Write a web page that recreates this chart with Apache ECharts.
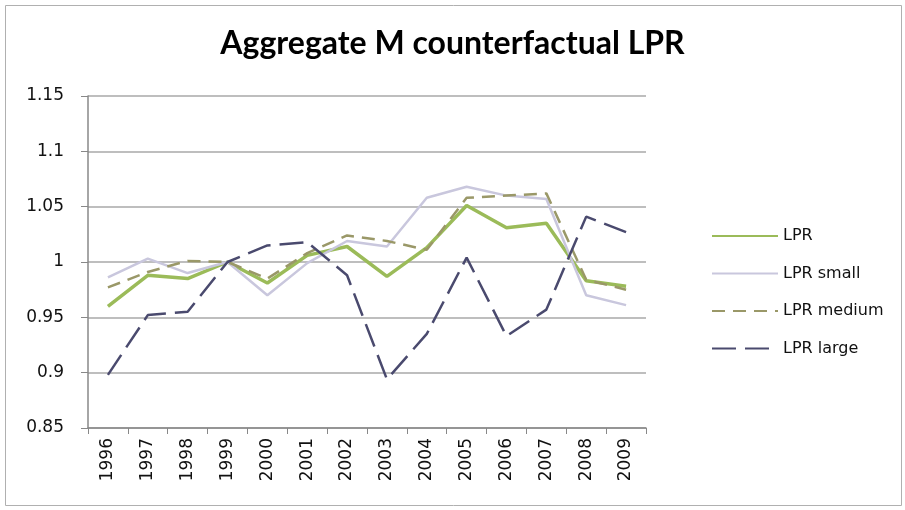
<!DOCTYPE html>
<html>
<head>
<meta charset="utf-8">
<script src="https://cdn.jsdelivr.net/npm/echarts@6/dist/echarts.min.js"></script>
<style>
html,body{margin:0;padding:0;background:#fff;}
#chart{width:905px;height:510px;}
</style>
</head>
<body>
<div id="chart"></div>
<script>
var years = ['1996','1997','1998','1999','2000','2001','2002','2003','2004','2005','2006','2007','2008','2009'];
var lpr       = [0.960, 0.988, 0.985, 1.000, 0.981, 1.006, 1.014, 0.987, 1.013, 1.051, 1.031, 1.035, 0.983, 0.978];
var lprSmall  = [0.986, 1.003, 0.990, 1.000, 0.970, 0.999, 1.019, 1.014, 1.058, 1.068, 1.060, 1.057, 0.970, 0.961];
var lprMedium = [0.977, 0.991, 1.001, 1.000, 0.985, 1.008, 1.024, 1.019, 1.011, 1.058, 1.060, 1.062, 0.984, 0.975];
var lprLarge  = [0.898, 0.952, 0.955, 1.000, 1.015, 1.018, 0.988, 0.894, 0.935, 1.004, 0.933, 0.957, 1.041, 1.027];
var seriesNames = ['LPR', 'LPR small', 'LPR medium', 'LPR large'];

var chart = echarts.init(document.getElementById('chart'), null, {renderer: 'canvas'});
var axisFont = 'DejaVu Sans';
function mk(name, data, color, width, type) {
  return {
    name: name, type: 'line', data: data, symbol: 'none', showSymbol: false, smooth: false,
    lineStyle: {color: color, width: width, type: type, cap: 'butt'},
    itemStyle: {color: color},
    emphasis: {disabled: true}
  };
}
chart.setOption({
  animation: false,
  backgroundColor: '#ffffff',
  graphic: [{
    type: 'rect', shape: {x: 5.5, y: 5.5, width: 896, height: 500},
    style: {fill: 'none', stroke: '#b0b0b0', lineWidth: 1}, z: -1
  }],
  title: {
    text: 'Aggregate M counterfactual LPR',
    left: 'center', top: 23,
    textStyle: {fontFamily: 'Lato', fontWeight: 'bold', fontSize: 32, color: '#000'}
  },
  grid: {left: 88, right: 259, top: 96, bottom: 82},
  legend: {
    orient: 'vertical', left: 706, top: 223,
    itemWidth: 66, itemHeight: 14, itemGap: 21.5,
    itemStyle: {opacity: 0},
    textStyle: {fontFamily: axisFont, fontSize: 16, color: '#111', fontWeight: 'normal'},
    data: seriesNames
  },
  xAxis: {
    type: 'category', data: years, boundaryGap: true,
    axisLine: {lineStyle: {color: '#888', width: 1.5}},
    axisTick: {show: true, alignWithLabel: false, length: 6, lineStyle: {color: '#888'}},
    axisLabel: {rotate: 90, margin: 10, fontFamily: axisFont, fontSize: 17, color: '#111'},
    splitLine: {show: false}
  },
  yAxis: {
    type: 'value', min: 0.85, max: 1.15, interval: 0.05,
    axisLine: {show: true, lineStyle: {color: '#888', width: 1.5}},
    axisTick: {show: true, length: 7, lineStyle: {color: '#888'}},
    axisLabel: {margin: 24, fontFamily: axisFont, fontSize: 17, color: '#111',
      formatter: function(v){ return String(Math.round(v*100)/100); }},
    splitLine: {lineStyle: {color: '#a8a8a8', width: 1.5}}
  },
  series: [
    mk('LPR', lpr, '#9BBB59', 3.5, 'solid'),
    mk('LPR small', lprSmall, '#C9C7DD', 2.5, 'solid'),
    mk('LPR medium', lprMedium, '#9A9868', 2.5, [13, 8]),
    mk('LPR large', lprLarge, '#4A4A6E', 2.5, [24, 9])
  ]
});
</script>
</body>
</html>
